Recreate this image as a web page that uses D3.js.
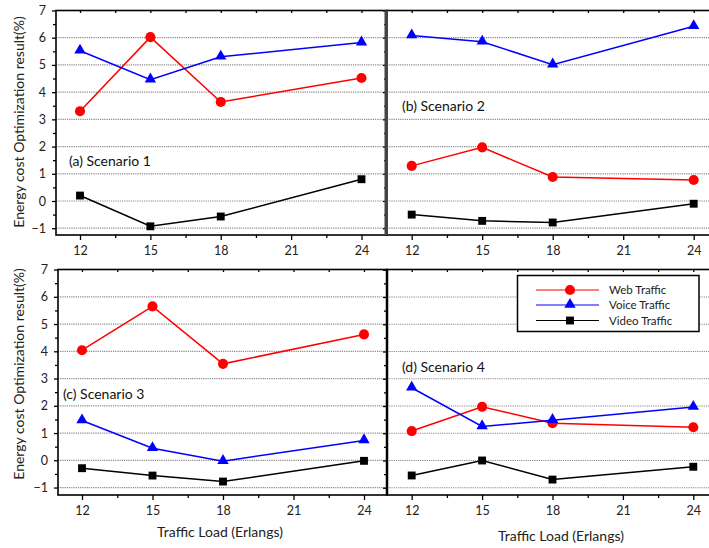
<!DOCTYPE html>
<html>
<head>
<meta charset="utf-8">
<script src="https://cdn.jsdelivr.net/npm/d3@7"></script>
<style>
  html, body { margin: 0; padding: 0; background: #fff; }
  svg { display: block; font-family: Lato, "Open Sans", sans-serif; }
</style>
</head>
<body>
<svg id="chart" width="709" height="548"></svg>
<script>
// ---- Data ----
const trafficLoads = [12, 15, 18, 24];
const xTickValues = [12, 15, 18, 21, 24];
const yTickValues = [-1, 0, 1, 2, 3, 4, 5, 6, 7];
const seriesNames = ["Web Traffic", "Voice Traffic", "Video Traffic"];
const panelTitles = ["(a) Scenario 1", "(b) Scenario 2", "(c) Scenario 3", "(d) Scenario 4"];

const webA = [3.3, 6.02, 3.64, 4.52];
const voiceA = [5.52, 4.46, 5.3, 5.82];
const videoA = [0.2, -0.93, -0.57, 0.8];

const webB = [1.29, 1.97, 0.88, 0.77];
const voiceB = [6.08, 5.85, 5.01, 6.42];
const videoB = [-0.5, -0.73, -0.79, -0.1];

const webC = [4.04, 5.65, 3.54, 4.62];
const voiceC = [1.46, 0.44, -0.03, 0.73];
const videoC = [-0.29, -0.56, -0.78, -0.02];

const webD = [1.08, 1.97, 1.37, 1.22];
const voiceD = [2.67, 1.25, 1.48, 1.96];
const videoD = [-0.55, 0.0, -0.7, -0.23];

const yAxisTitle = "Energy cost Optimization result(%)";
const xAxisTitle = "Traffic Load (Erlangs)";

// ---- Layout ----
const colors = ["#ff0000", "#0000ff", "#000000"];
const svg = d3.select("#chart");
const symTypes = [d3.symbolCircle, d3.symbolTriangle, d3.symbolSquare];
const symSizes = [80, 56, 62];

const panels = [
  { web: webA, voice: voiceA, video: videoA, title: panelTitles[0],
    box: [56, 10.5, 387, 235], xr: [80, 361.5], yr: [201, 37.7], titlePos: [69, 166], yLabels: true, xTitle: false },
  { web: webB, voice: voiceB, video: videoB, title: panelTitles[1],
    box: [387, 10.5, 714, 235], xr: [411.7, 693.7], yr: [201, 37.7], titlePos: [402, 111], yLabels: false, xTitle: false },
  { web: webC, voice: voiceC, video: videoC, title: panelTitles[2],
    box: [58, 269.5, 387, 495], xr: [82, 364], yr: [460.3, 296.8], titlePos: [63, 399], yLabels: true, xTitle: true, xTitlePos: [220, 537] },
  { web: webD, voice: voiceD, video: videoD, title: panelTitles[3],
    box: [387, 269.5, 714, 495], xr: [411.7, 693.3], yr: [460.5, 297], titlePos: [402, 372], yLabels: false, xTitle: true, xTitlePos: [561, 541] }
];

panels.forEach((p, i) => {
  const [x0, y0, x1, y1] = p.box;
  const x = d3.scaleLinear().domain([12, 24]).range(p.xr);
  const y = d3.scaleLinear().domain([0, 6]).range(p.yr);
  const g = svg.append("g");

  // gridlines
  g.selectAll(".grid").data(yTickValues.filter(v => v < 7)).enter().append("line")
    .attr("x1", x0).attr("x2", x1)
    .attr("y1", d => y(d)).attr("y2", d => y(d))
    .attr("stroke", "#8a8a8a").attr("stroke-width", 1.2)
    .attr("stroke-dasharray", "1.2,1");

  // y axis (left)
  const yAxis = d3.axisLeft(y).tickValues(yTickValues).tickSize(4).tickPadding(6)
    .tickFormat(p.yLabels ? d3.format("d") : () => "");
  const ya = g.append("g").attr("transform", `translate(${x0},0)`).call(yAxis);
  ya.select(".domain").remove();
  const yMinor = d3.axisLeft(y).tickValues(d3.range(-1, 7, 1).map(v => v + 0.5)).tickSize(3).tickFormat(() => "");
  const ym = g.append("g").attr("transform", `translate(${x0},0)`).call(yMinor);
  ym.select(".domain").remove();

  // x axis (bottom)
  const xAxis = d3.axisBottom(x).tickValues(xTickValues).tickSize(5).tickPadding(6).tickFormat(d3.format("d"));
  const xa = g.append("g").attr("transform", `translate(0,${y1})`).call(xAxis);
  xa.select(".domain").remove();
  const xMinor = d3.axisBottom(x).tickValues([13.5, 16.5, 19.5, 22.5]).tickSize(3).tickFormat(() => "");
  const xm = g.append("g").attr("transform", `translate(0,${y1})`).call(xMinor);
  xm.select(".domain").remove();
  // top mirrored ticks
  const xTop = d3.axisBottom(x).tickValues([12, 13.5, 15, 16.5, 18, 19.5, 21, 22.5, 24]).tickSize(2.5).tickFormat(() => "");
  const xt = g.append("g").attr("transform", `translate(0,${y0})`).call(xTop);
  xt.select(".domain").remove();

  [ya, ym, xa, xm, xt].forEach(a => {
    a.selectAll("line").attr("stroke", "#000").attr("stroke-width", 1.3);
    a.selectAll("text").attr("fill", "#222").style("font-size", "12.5px").style("font-family", "Lato, sans-serif");
  });

  // frame
  g.append("rect").attr("x", x0).attr("y", y0).attr("width", x1 - x0).attr("height", y1 - y0)
    .attr("fill", "none").attr("stroke", "#000").attr("stroke-width", 1.6);

  // panel title
  g.append("text").attr("x", p.titlePos[0]).attr("y", p.titlePos[1])
    .style("font-size", "14px").attr("fill", "#111").text(p.title);

  // series
  const seriesData = [p.web, p.voice, p.video];
  const line = d3.line().x((d, j) => x(trafficLoads[j])).y(d => y(d));
  seriesData.forEach((vals, s) => {
    g.append("path").datum(vals).attr("d", line)
      .attr("fill", "none").attr("stroke", colors[s]).attr("stroke-width", 1.5);
    g.selectAll(".m" + s).data(vals).enter().append("path")
      .attr("d", d3.symbol().type(symTypes[s]).size(symSizes[s]))
      .attr("transform", (d, j) => `translate(${x(trafficLoads[j])},${y(d) + (s === 1 ? -0.5 : 0)})`)
      .attr("fill", colors[s]);
  });

  if (p.xTitle) {
    g.append("text").attr("x", p.xTitlePos[0]).attr("y", p.xTitlePos[1])
      .attr("text-anchor", "middle").style("font-size", "14px").attr("fill", "#222").text(xAxisTitle);
  }
});

// divider thick line between left and right panels
svg.append("rect").attr("x", 384.5).attr("y", 10.5).attr("width", 3.5).attr("height", 224.5).attr("fill", "#444");
svg.append("line").attr("x1", 387).attr("x2", 387).attr("y1", 269.5).attr("y2", 495).attr("stroke", "#000").attr("stroke-width", 2.5);

// y axis titles
[122, 374].forEach(cy => {
  svg.append("text").attr("transform", `translate(19,${cy}) rotate(-90)`)
    .attr("text-anchor", "middle").attr("dy", "0.35em")
    .style("font-size", "14px").attr("fill", "#222").text(yAxisTitle);
});

// legend
const lg = svg.append("g");
lg.append("rect").attr("x", 517.5).attr("y", 275.5).attr("width", 181.5).attr("height", 56)
  .attr("fill", "#fff").attr("stroke", "#000").attr("stroke-width", 1.5);
const legendRows = [290, 305, 320.5];
seriesNames.forEach((name, s) => {
  const ry = legendRows[s];
  lg.append("line").attr("x1", 536).attr("x2", 599).attr("y1", ry).attr("y2", ry)
    .attr("stroke", colors[s]).attr("stroke-width", 1.2);
  lg.append("path").attr("d", d3.symbol().type(symTypes[s]).size(symSizes[s]))
    .attr("transform", `translate(570,${ry + (s === 1 ? -0.5 : 0)})`).attr("fill", colors[s]);
  lg.append("text").attr("x", 609).attr("y", ry).attr("dy", "0.35em")
    .style("font-size", "11.5px").attr("fill", "#222").text(name);
});
</script>
</body>
</html>
